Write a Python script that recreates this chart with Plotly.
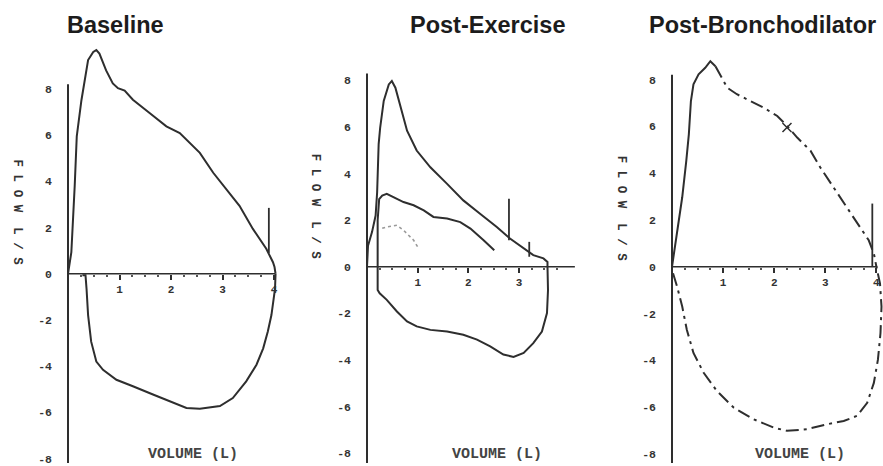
import plotly.graph_objects as go

# ---------------- data ----------------
titles = ["Baseline", "Post-Exercise", "Post-Bronchodilator"]
y_tick_vals = [-8, -6, -4, -2, 0, 2, 4, 6, 8]
y_tick_text = ["-8", "-6", "-4", "-2", "0", "2", "4", "6", "8"]
x_tick_vals = [1, 2, 3, 4]
x_tick_text = ["1", "2", "3", "4"]
y_title = "F L O W  L / S"
x_title = "VOLUME (L)"

# Baseline
base_exp_vol = [0.0, 0.065, 0.13, 0.17, 0.26, 0.32, 0.39, 0.49, 0.55, 0.61, 0.74, 0.87, 0.97, 1.1, 1.26,
                1.59, 1.91, 2.17, 2.3, 2.56, 2.82, 3.07, 3.33, 3.59, 3.85, 3.98, 4.01, 4.03]
base_exp_flow = [0.0, 0.93, 3.8, 5.95, 7.5, 8.4, 9.25, 9.6, 9.68, 9.53, 8.8, 8.24, 8.03, 7.93, 7.53,
                 6.95, 6.38, 6.09, 5.8, 5.23, 4.37, 3.66, 2.94, 1.94, 1.08, 0.5, 0.29, 0.0]
base_insp_vol = [4.03, 4.02, 3.95, 3.88, 3.79, 3.66, 3.46, 3.2, 2.95, 2.56, 2.3, 2.04, 1.65, 1.26,
                 0.94, 0.68, 0.55, 0.45, 0.39, 0.36, 0.34, 0.28]
base_insp_flow = [0.0, -0.65, -1.79, -2.5, -3.23, -3.94, -4.66, -5.38, -5.73, -5.84, -5.81, -5.59,
                  -5.23, -4.87, -4.59, -4.16, -3.8, -2.94, -1.79, -0.65, -0.07, -0.07]
base_mark_vol = [3.9]
base_mark_lo = [0.9]
base_mark_hi = [2.85]

# Post-Exercise
ex_exp_vol = [0.0, 0.02, 0.1, 0.17, 0.2, 0.23, 0.26, 0.33, 0.43, 0.49, 0.56, 0.66, 0.79, 0.98, 1.25,
              1.58, 1.9, 2.23, 2.56, 2.82, 3.09, 3.28, 3.48, 3.56, 3.56]
ex_exp_flow = [0.0, 0.9, 1.5, 2.2, 3.2, 5.27, 5.98, 7.12, 7.83, 7.98, 7.69, 6.84, 5.84, 4.99, 4.27,
               3.56, 2.85, 2.28, 1.71, 1.21, 0.78, 0.5, 0.36, 0.21, 0.0]
ex_insp_vol = [3.56, 3.57, 3.55, 3.45, 3.28, 3.09, 2.89, 2.69, 2.43, 2.17, 1.9, 1.58, 1.25, 0.98,
               0.79, 0.59, 0.39, 0.25, 0.21, 0.21, 0.21, 0.24, 0.3, 0.39, 0.53, 0.72, 0.92, 1.12,
               1.31, 1.58, 1.84, 2.04, 2.3, 2.51]
ex_insp_flow = [0.0, -1.0, -1.99, -2.78, -3.28, -3.7, -3.87, -3.77, -3.42, -3.13, -2.92, -2.78,
                -2.71, -2.56, -2.35, -1.92, -1.42, -1.14, -1.0, 0.0, 2.0, 2.9, 3.06, 3.13, 2.99,
                2.78, 2.64, 2.42, 2.14, 2.07, 1.92, 1.64, 1.14, 0.71]
ex_dot_vol = [0.3, 0.39, 0.59, 0.72, 0.92, 1.02]
ex_dot_flow = [1.65, 1.71, 1.78, 1.57, 1.14, 0.78]
ex_mark_vol = [2.8, 3.2]
ex_mark_lo = [1.14, 0.43]
ex_mark_hi = [2.92, 1.07]

# Post-Bronchodilator
bd_rise_vol = [0.0, 0.1, 0.2, 0.28, 0.33, 0.37, 0.42, 0.52, 0.65, 0.75, 0.85]
bd_rise_flow = [0.0, 1.42, 2.97, 4.53, 5.67, 7.08, 7.79, 8.22, 8.5, 8.78, 8.57]
bd_exp_vol = [0.85, 0.98, 1.08, 1.27, 1.53, 1.79, 2.06, 2.25, 2.45, 2.71, 2.9, 3.16, 3.43, 3.69,
              3.85, 3.95, 4.0]
bd_exp_flow = [8.57, 8.07, 7.65, 7.37, 7.08, 6.8, 6.44, 6.02, 5.52, 4.96, 4.25, 3.4, 2.55, 1.7,
               1.13, 0.57, 0.0]
bd_insp_vol = [0.02, 0.1, 0.2, 0.29, 0.42, 0.62, 0.88, 1.21, 1.6, 1.99, 2.25, 2.64, 3.03, 3.36,
               3.62, 3.82, 3.95, 4.03, 4.08, 4.1, 4.07, 4.0]
bd_insp_flow = [-0.28, -0.85, -1.7, -2.69, -3.68, -4.53, -5.31, -6.02, -6.52, -6.87, -7.01, -6.94,
                -6.73, -6.59, -6.37, -5.81, -4.96, -3.97, -2.83, -1.7, -0.71, 0.0]
bd_mark_vol = [3.92]
bd_mark_lo = [0.0]
bd_mark_hi = [2.7]
bd_x_vol = [2.25]
bd_x_flow = [5.95]

# ---------------- layout geometry ----------------
W, H = 883, 466
LINE = "#2e2e2e"
MONO = "Liberation Mono, DejaVu Sans Mono, monospace"

# pixel calibration for each panel: origin (x0,y0), px per litre, px per L/s, pixel domain
panels = [
    dict(x0=68, sx=51.5, y0=275.5, sy=23.25, px=(2, 300), ytop=8.2, ybot=-8.6, xend=4.02,
         title_x=115.5, ytitle_x=17, ytitle_y=214, xtitle_x=193),
    dict(x0=367, sx=50.7, y0=268.5, sy=23.44, px=(302, 600), ytop=8.3, ybot=-8.5, xend=4.1,
         title_x=487.5, ytitle_x=315, ytitle_y=208, xtitle_x=497),
    dict(x0=672, sx=51.1, y0=268.5, sy=23.56, px=(604, 883), ytop=8.2, ybot=-8.5, xend=4.02,
         title_x=762.5, ytitle_x=621, ytitle_y=210, xtitle_x=800),
]

fig = go.Figure()


def ax(i, kind):
    return kind if i == 0 else f"{kind}{i + 1}"


def add_line(i, xs, ys, dash="solid", color=LINE, width=2.0):
    fig.add_trace(go.Scatter(x=xs, y=ys, mode="lines", xaxis=ax(i, "x"), yaxis=ax(i, "y"),
                             line=dict(color=color, width=width, dash=dash), showlegend=False,
                             hoverinfo="skip"))


def add_marks(i, vols, los, his):
    for v, lo, hi in zip(vols, los, his):
        add_line(i, [v, v], [lo, hi], width=1.8)


# Baseline
add_line(0, base_exp_vol, base_exp_flow)
add_line(0, base_insp_vol, base_insp_flow)
add_marks(0, base_mark_vol, base_mark_lo, base_mark_hi)
# Post-Exercise
add_line(1, ex_exp_vol, ex_exp_flow)
add_line(1, ex_insp_vol, ex_insp_flow)
add_line(1, ex_dot_vol, ex_dot_flow, dash="dot", color="#9a9a9a", width=1.6)
add_marks(1, ex_mark_vol, ex_mark_lo, ex_mark_hi)
# Post-Bronchodilator
DASHDOT = "13px,5px,3px,5px"
add_line(2, bd_rise_vol, bd_rise_flow)
add_line(2, bd_exp_vol, bd_exp_flow, dash=DASHDOT)
add_line(2, bd_insp_vol, bd_insp_flow, dash=DASHDOT)
add_marks(2, bd_mark_vol, bd_mark_lo, bd_mark_hi)
fig.add_trace(go.Scatter(x=bd_x_vol, y=bd_x_flow, mode="markers", xaxis="x3", yaxis="y3",
                         marker=dict(symbol="x-thin-open", size=9, color=LINE,
                                     line=dict(color=LINE, width=1.5)),
                         showlegend=False, hoverinfo="skip"))

layout = dict(width=W, height=H, margin=dict(l=0, r=0, t=0, b=0),
              paper_bgcolor="white", plot_bgcolor="white", showlegend=False)
shapes = []
annotations = []
for i, p in enumerate(panels):
    pa, pb = p["px"]
    xr = [(pa - p["x0"]) / p["sx"], (pb - p["x0"]) / p["sx"]]
    yr = [(p["y0"] - H) / p["sy"], p["y0"] / p["sy"]]
    xkey = "xaxis" if i == 0 else f"xaxis{i + 1}"
    ykey = "yaxis" if i == 0 else f"yaxis{i + 1}"
    xt_vals = x_tick_vals if i != 1 else x_tick_vals[:3]
    xt_text = x_tick_text if i != 1 else x_tick_text[:3]
    layout[xkey] = dict(domain=[pa / W, pb / W], range=xr, anchor="free",
                        position=1 - p["y0"] / H, showgrid=False, zeroline=False, showline=False,
                        tickvals=xt_vals, ticktext=xt_text, ticks="outside", ticklen=5, tickwidth=2,
                        tickcolor=LINE,
                        minor=dict(tickvals=[k * 0.25 for k in range(1, 16)], ticks="outside",
                                   ticklen=2, tickwidth=1.5, tickcolor="#555"),
                        tickfont=dict(family=MONO, size=11, color="#333", weight="bold"),
                        fixedrange=True)
    layout[ykey] = dict(domain=[0, 1], range=yr, anchor="free", position=p["x0"] / W,
                        showgrid=False, zeroline=False, showline=False, tickvals=y_tick_vals,
                        ticktext=y_tick_text, ticks="", ticklabelstandoff=16,
                        ticklabeloverflow="allow",
                        tickfont=dict(family=MONO, size=11.5, color="#333", weight="bold"),
                        fixedrange=True)
    xa, ya = ax(i, "x"), ax(i, "y")
    # axis lines
    shapes.append(dict(type="line", xref=xa, yref=ya, x0=0, x1=0, y0=p["ybot"], y1=p["ytop"],
                       line=dict(color=LINE, width=2)))
    shapes.append(dict(type="line", xref=xa, yref=ya, x0=0, x1=p["xend"], y0=0, y1=0,
                       line=dict(color=LINE, width=1.6)))
    # titles
    annotations.append(dict(text=titles[i], x=p["title_x"] / W, y=1 - 25 / H, xref="paper",
                            yref="paper", showarrow=False, xanchor="center", yanchor="middle",
                            font=dict(family="Liberation Sans, Arial, sans-serif", size=23.5,
                                      color="#1c1c1c", weight="bold")))
    annotations.append(dict(text=y_title, x=p["ytitle_x"] / W, y=1 - p["ytitle_y"] / H,
                            xref="paper", yref="paper", showarrow=False, textangle=90,
                            xanchor="center", yanchor="middle",
                            font=dict(family=MONO, size=12.5, color="#333", weight="bold")))
    annotations.append(dict(text=x_title, x=p["xtitle_x"] / W, y=1 - 457 / H, xref="paper",
                            yref="paper", showarrow=False, xanchor="center", yanchor="middle",
                            font=dict(family=MONO, size=15, color="#444", weight="bold")))

layout["shapes"] = shapes
layout["annotations"] = annotations
fig.update_layout(**layout)
fig.write_html("out.html", config={"displayModeBar": False},
               post_script="document.body.style.margin='0';")
